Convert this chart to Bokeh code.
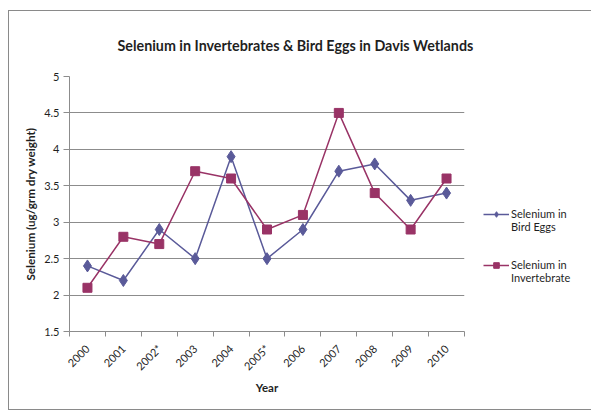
from bokeh.plotting import figure
from bokeh.models import FixedTicker, Legend, LegendItem, Range1d, Title
from bokeh.embed import file_html
from bokeh.resources import INLINE
import math

years = ["2000", "2001", "2002*", "2003", "2004", "2005*", "2006", "2007", "2008", "2009", "2010"]
bird_eggs = [2.4, 2.2, 2.9, 2.5, 3.9, 2.5, 2.9, 3.7, 3.8, 3.3, 3.4]
invertebrate = [2.1, 2.8, 2.7, 3.7, 3.6, 2.9, 3.1, 4.5, 3.4, 2.9, 3.6]
y_ticks = [1.5, 2, 2.5, 3, 3.5, 4, 4.5, 5]
y_tick_labels = ["1.5", "2", "2.5", "3", "3.5", "4", "4.5", "5"]

BIRD = "#5A5A99"
INV = "#993366"
GRID = "#8c8c8c"
TXT = "#1f1f1f"
FONT = "Lato"

xs = [i + 0.5 for i in range(len(years))]

p = figure(frame_width=395, frame_height=255, output_backend="svg", toolbar_location=None,
           x_range=Range1d(0, len(years)), y_range=Range1d(1.5, 5),
           min_border_left=60, min_border_right=118, min_border_top=65, min_border_bottom=78,
           margin=(10, 0, 0, 8))
p.outline_line_color = None
p.background_fill_color = "white"
p.border_fill_color = "white"
p.styles = {"border": "1px solid #8a8a8a"}

p.title = Title(text="Selenium in Invertebrates & Bird Eggs in Davis Wetlands", align="left",
                text_font=FONT, text_font_size="14.3px", text_font_style="bold", text_color=TXT,
                offset=48, standoff=46)

# x axis
p.xaxis.ticker = FixedTicker(ticks=xs, minor_ticks=list(range(len(years) + 1)))
p.xaxis.major_label_overrides = {x: y for x, y in zip(xs, years)}
p.xaxis.major_label_orientation = math.pi / 4
p.xaxis.major_tick_line_color = None
p.xaxis.minor_tick_line_color = GRID
p.xaxis.minor_tick_in = 0
p.xaxis.minor_tick_out = 5
p.xaxis.axis_line_color = GRID
p.xaxis.major_label_text_font = FONT
p.xaxis.major_label_text_font_size = "11px"
p.xaxis.major_label_text_color = TXT
p.xaxis.major_label_standoff = 9
p.xaxis.axis_label = "Year"
p.xaxis.axis_label_text_font = FONT
p.xaxis.axis_label_text_font_size = "11.5px"
p.xaxis.axis_label_text_font_style = "bold"
p.xaxis.axis_label_text_color = TXT
p.xaxis.axis_label_standoff = 1
p.xgrid.grid_line_color = None

# y axis
p.yaxis.ticker = FixedTicker(ticks=y_ticks)
p.yaxis.major_label_overrides = {t: l for t, l in zip(y_ticks, y_tick_labels)}
p.yaxis.major_tick_in = 0
p.yaxis.major_tick_out = 6
p.yaxis.major_tick_line_color = GRID
p.yaxis.minor_tick_line_color = None
p.yaxis.axis_line_color = GRID
p.yaxis.major_label_text_font = FONT
p.yaxis.major_label_text_font_size = "11px"
p.yaxis.major_label_text_color = TXT
p.yaxis.major_label_standoff = 4
p.yaxis.axis_label = "Selenium (ug/grm dry weight)"
p.yaxis.axis_label_text_font = FONT
p.yaxis.axis_label_text_font_size = "11.7px"
p.yaxis.axis_label_text_font_style = "bold"
p.yaxis.axis_label_text_color = TXT
p.yaxis.axis_label_standoff = 4
p.ygrid.grid_line_color = GRID
p.ygrid.grid_line_width = 1

l1 = p.line(xs, bird_eggs, line_color=BIRD, line_width=1.5)
m1 = p.scatter(xs, bird_eggs, marker="diamond", size=12, fill_color=BIRD, line_color=BIRD)
l2 = p.line(xs, invertebrate, line_color=INV, line_width=1.5)
m2 = p.scatter(xs, invertebrate, marker="square", size=9, fill_color=INV, line_color=INV)

legend = Legend(items=[LegendItem(label=" \nSelenium in\nBird Eggs", renderers=[l1, m1]),
                       LegendItem(label=" \nSelenium in\nInvertebrate", renderers=[l2, m2])],
                location=(19, 47), border_line_color=None, background_fill_alpha=0,
                label_text_font=FONT, label_text_font_size="11px", label_text_color=TXT,
                label_text_line_height=1.3,
                glyph_width=26, glyph_height=14, label_standoff=2, spacing=12,
                padding=0, margin=0)
p.add_layout(legend, "right")

open("out.html", "w").write(file_html(p, INLINE))
